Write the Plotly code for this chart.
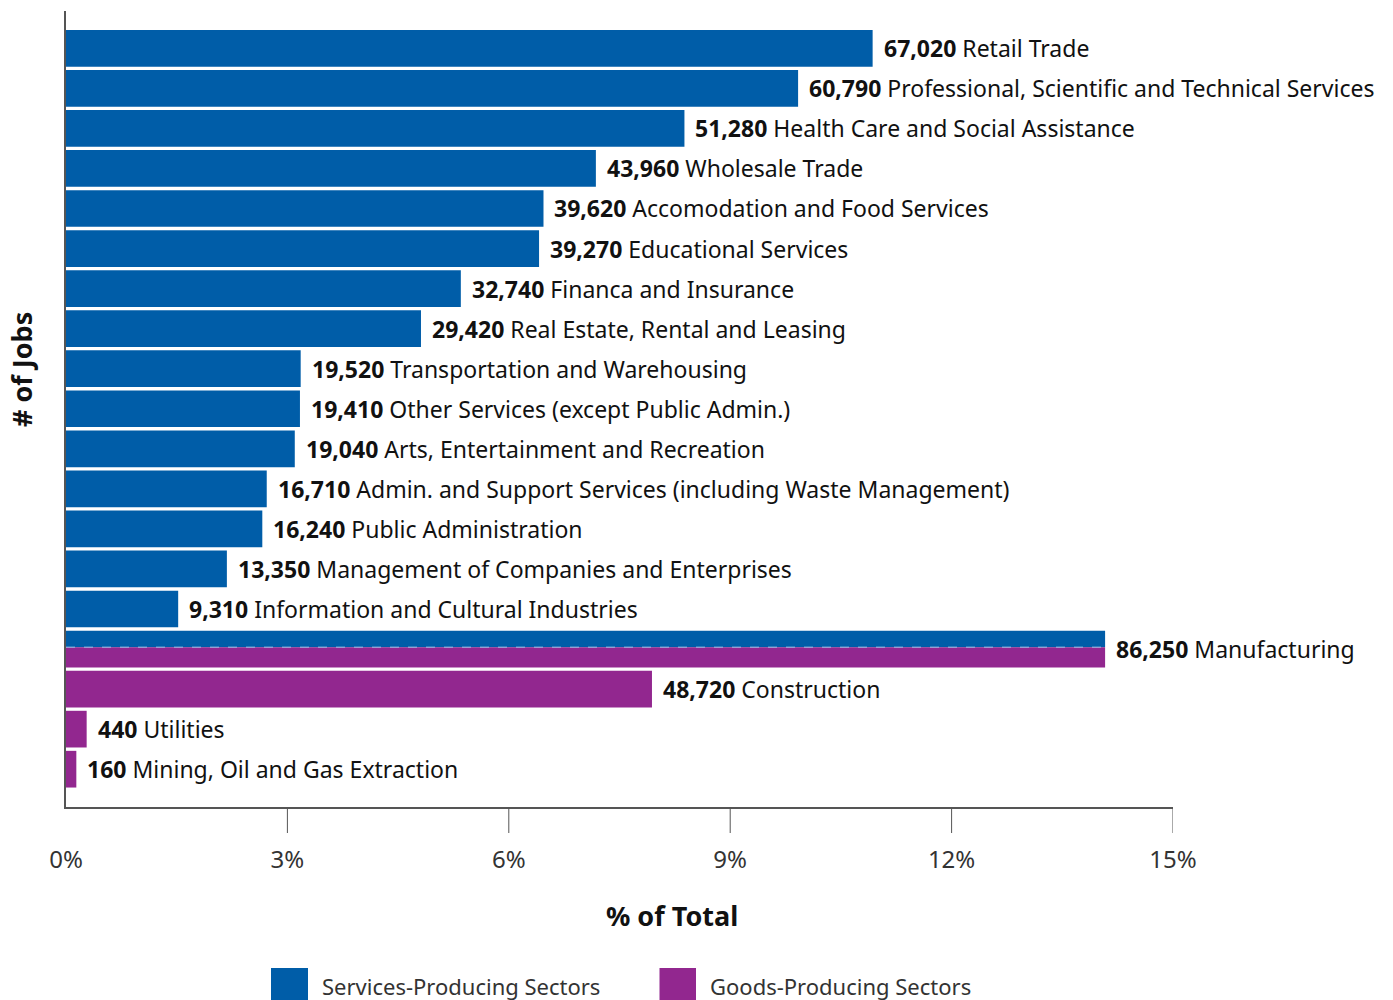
import plotly.graph_objects as go

# ---------------- data ----------------
sectors = [
    "Retail Trade",
    "Professional, Scientific and Technical Services",
    "Health Care and Social Assistance",
    "Wholesale Trade",
    "Accomodation and Food Services",
    "Educational Services",
    "Financa and Insurance",
    "Real Estate, Rental and Leasing",
    "Transportation and Warehousing",
    "Other Services (except Public Admin.)",
    "Arts, Entertainment and Recreation",
    "Admin. and Support Services (including Waste Management)",
    "Public Administration",
    "Management of Companies and Enterprises",
    "Information and Cultural Industries",
    "Manufacturing",
    "Construction",
    "Utilities",
    "Mining, Oil and Gas Extraction",
]
jobs = [67020, 60790, 51280, 43960, 39620, 39270, 32740, 29420, 19520, 19410,
        19040, 16710, 16240, 13350, 9310, 86250, 48720, 440, 160]
pct_of_total = [10.93, 9.92, 8.38, 7.18, 6.47, 6.41, 5.35, 4.81, 3.18, 3.17,
                3.10, 2.72, 2.66, 2.18, 1.52, 14.08, 7.94, 0.28, 0.14]
sector_group = ["services"] * 15 + ["both"] + ["goods"] * 3
x_ticks = [0, 3, 6, 9, 12, 15]
x_tick_labels = ["0%", "3%", "6%", "9%", "12%", "15%"]
legend_names = ["Services-Producing Sectors", "Goods-Producing Sectors"]

# ---------------- style ----------------
BLUE = "#005DA8"
PURPLE = "#92278F"
FONT = "Noto Sans"
BAR_W = 0.916
SPLIT = 0.047  # split line position inside the shared (Manufacturing) bar

n = len(sectors)
ypos = [n - 1 - i for i in range(n)]

PLOT_L, PLOT_R, PLOT_T, PLOT_B = 66, 1173, 11, 807
W = PLOT_R - PLOT_L
H = PLOT_B - PLOT_T


def px(xp):
    return (xp - PLOT_L) / W


def py(yp):
    return (PLOT_B - yp) / H


fig = go.Figure()

# services trace
s_idx = [i for i in range(n) if sector_group[i] in ("services", "both")]
fig.add_trace(go.Bar(
    orientation="h",
    x=[pct_of_total[i] for i in s_idx],
    y=[ypos[i] for i in s_idx],
    width=[BAR_W if sector_group[i] == "services" else (BAR_W / 2 - SPLIT) for i in s_idx],
    offset=[-BAR_W / 2 if sector_group[i] == "services" else SPLIT for i in s_idx],
    marker=dict(color=BLUE, line=dict(width=0)),
    name=legend_names[0],
    showlegend=False,
    hoverinfo="skip",
))
# goods trace
g_idx = [i for i in range(n) if sector_group[i] in ("goods", "both")]
fig.add_trace(go.Bar(
    orientation="h",
    x=[pct_of_total[i] for i in g_idx],
    y=[ypos[i] for i in g_idx],
    width=[BAR_W if sector_group[i] == "goods" else (BAR_W / 2 + SPLIT) for i in g_idx],
    offset=[-BAR_W / 2 for i in g_idx],
    marker=dict(color=PURPLE, line=dict(width=0)),
    name=legend_names[1],
    showlegend=False,
    hoverinfo="skip",
))

# dashed divider in the shared bar
for i in range(n):
    if sector_group[i] == "both":
        fig.add_shape(type="line", xref="x", yref="y",
                      x0=0, x1=pct_of_total[i], y0=ypos[i] + SPLIT, y1=ypos[i] + SPLIT,
                      line=dict(color="#9cc2e8", width=1, dash="dash"))

# tick marks (none at 0, where the y axis line sits)
for t in x_ticks[1:]:
    fig.add_shape(type="line", xref="x", yref="paper",
                  x0=t, x1=t, y0=0, y1=py(833),
                  line=dict(color="#555555", width=1))

# value + name labels
annotations = []
for i in range(n):
    annotations.append(dict(
        x=pct_of_total[i], y=ypos[i], xref="x", yref="y",
        text=f"<b>{jobs[i]:,}</b> {sectors[i]}",
        xanchor="left", yanchor="middle", xshift=9, showarrow=False,
        font=dict(family=FONT, size=23, color="#111111"),
    ))

annotations.append(dict(
    x=px(671.5), y=py(915), xref="paper", yref="paper",
    text="<b>% of Total</b>", showarrow=False, xanchor="center", yanchor="middle",
    font=dict(family=FONT, size=27, color="#111111"),
))
annotations.append(dict(
    x=px(21), y=py(370), xref="paper", yref="paper",
    text="<b># of Jobs</b>", showarrow=False, textangle=-90,
    xanchor="center", yanchor="middle",
    font=dict(family=FONT, size=27, color="#111111"),
))

# legend (manual)
legend_items = [(271, 308, BLUE, legend_names[0], 320), (659.5, 696, PURPLE, legend_names[1], 708)]
for x0, x1, col, name, tx in legend_items:
    fig.add_shape(type="rect", xref="paper", yref="paper",
                  x0=px(x0), x1=px(x1), y0=py(1005), y1=py(968),
                  fillcolor=col, line=dict(width=0), layer="above")
    annotations.append(dict(
        x=px(tx), y=py(986), xref="paper", yref="paper",
        text=name, showarrow=False, xanchor="left", yanchor="middle",
        font=dict(family=FONT, size=22, color="#333333"),
    ))

fig.update_layout(
    width=1393, height=1000,
    margin=dict(l=PLOT_L, r=1393 - PLOT_R, t=PLOT_T, b=1000 - PLOT_B),
    paper_bgcolor="white", plot_bgcolor="white",
    barmode="overlay",
    annotations=annotations,
    showlegend=False,
    font=dict(family=FONT),
)
fig.update_xaxes(
    range=[0, 15], tickvals=x_ticks, ticktext=x_tick_labels,
    showgrid=False, zeroline=False,
    showline=True, linecolor="#555555", linewidth=1.5,
    ticks="",
    tickfont=dict(family=FONT, size=24, color="#333333"),
    ticklabelstandoff=30,
)
fig.update_yaxes(
    range=[-0.944, 18.931],
    showgrid=False, zeroline=False, showticklabels=False, ticks="",
    showline=True, linecolor="#555555", linewidth=2,
)

fig.write_html("out.html",
               config={"displayModeBar": False},
               post_script="document.body.style.margin='0';document.body.style.padding='0';")
